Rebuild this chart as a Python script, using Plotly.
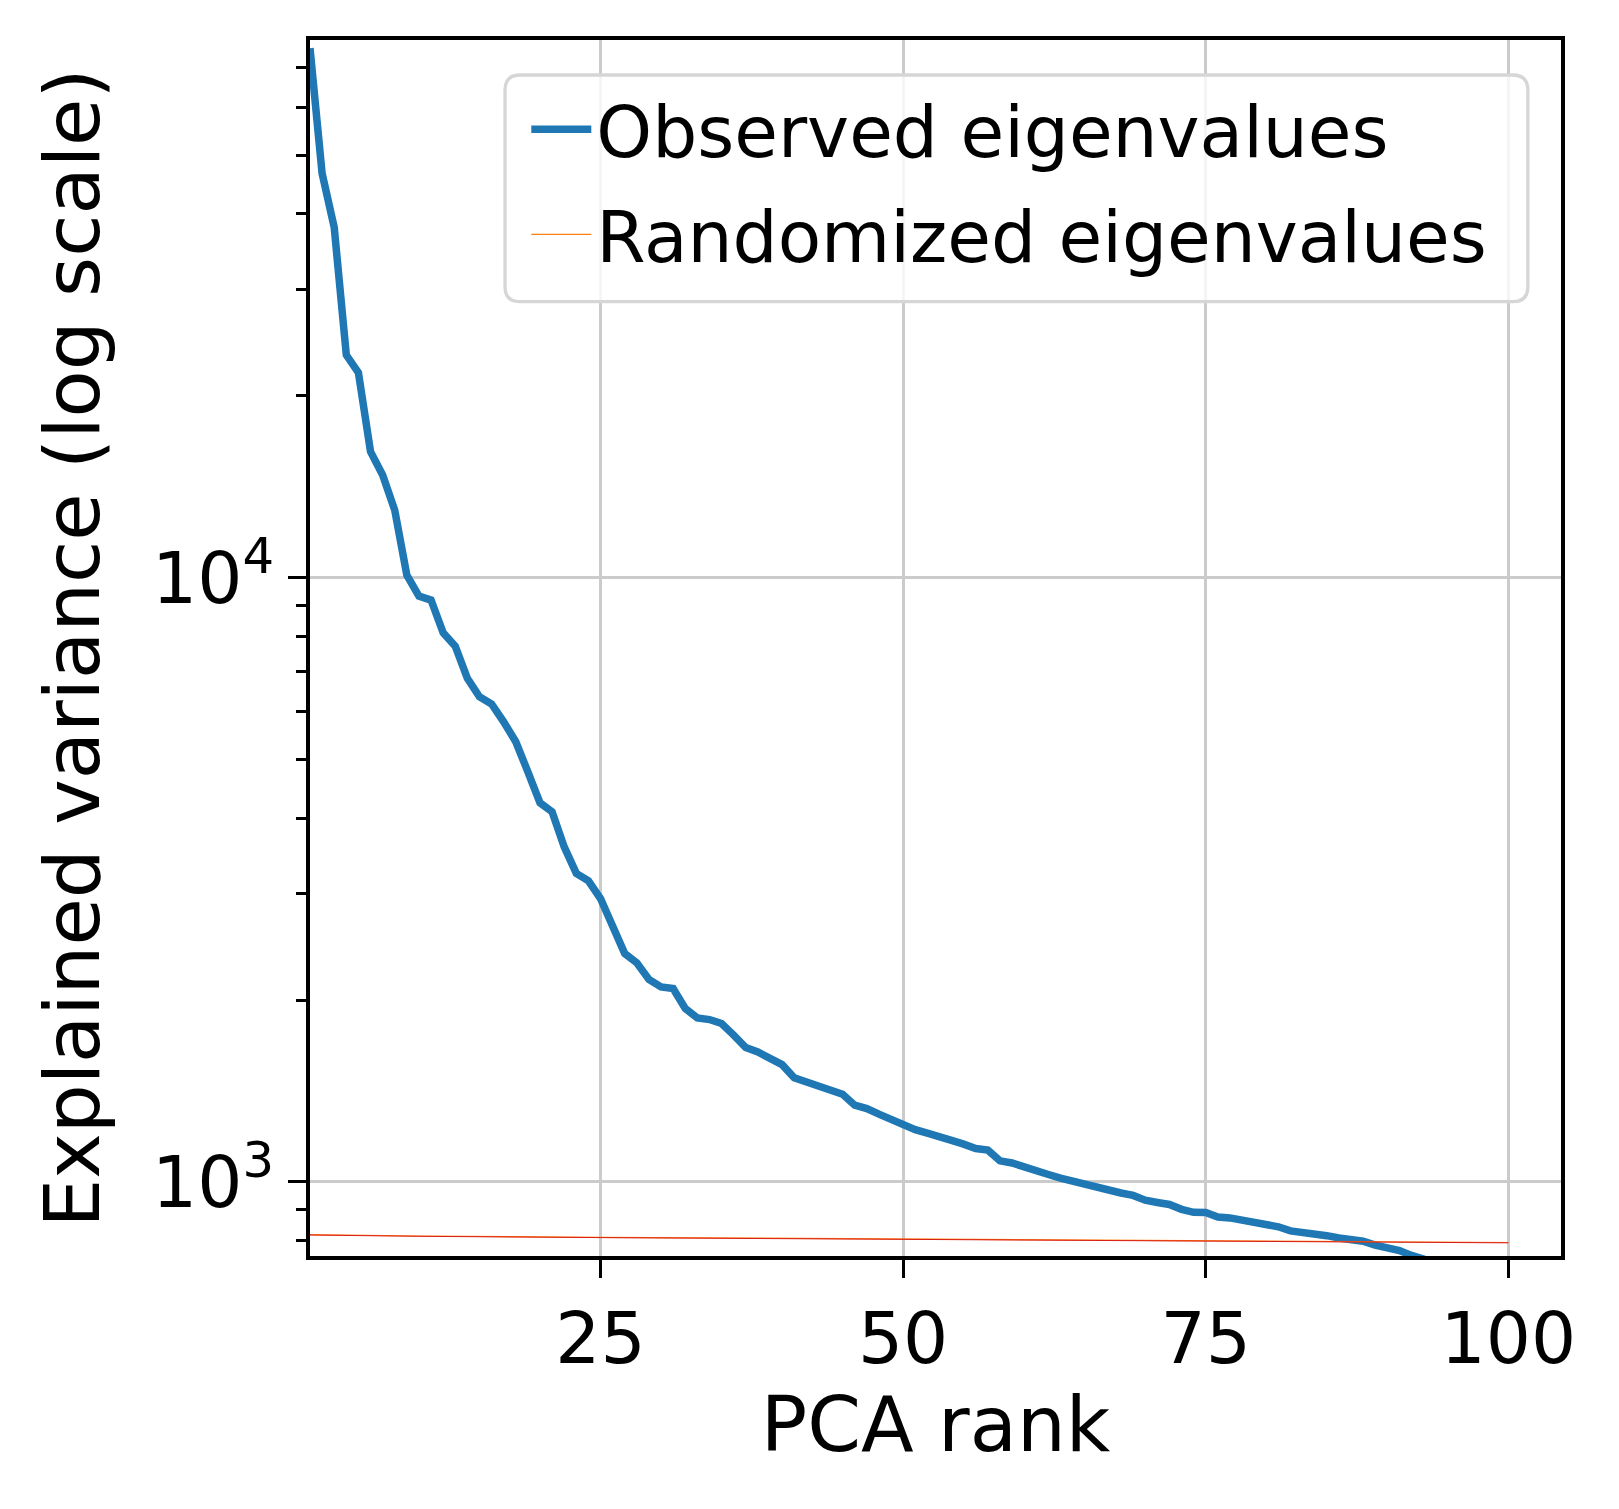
import plotly.graph_objects as go

# ---- data ----
rank_obs = list(range(1, 95))
observed = [
    75250, 46700, 38000, 23370, 21850, 16170, 14790, 12940, 10100, 9326,
    9185, 8110, 7705, 6815, 6354, 6181, 5776, 5353, 4773, 4241,
    4098, 3586, 3241, 3150, 2945, 2651, 2388, 2305, 2163, 2103,
    2090, 1937, 1868, 1857, 1829, 1750, 1669, 1641, 1601, 1564,
    1487, 1464, 1433, 1418, 1397, 1340, 1323, 1295, 1269, 1238,
    1221, 1205, 1192, 1172, 1155, 1136, 1129, 1084, 1075, 1062,
    1043, 1029, 1015, 1003, 987, 975, 965, 959, 950, 933,
    925, 918, 901, 891, 890, 875, 872, 866, 859, 848,
    843, 830, 826, 819, 815, 808, 804, 798, 786, 778,
    770, 756, 744, 735,
]
rank_rand = [1, 10, 25, 50, 75, 100]
randomized = [818, 814, 810, 805, 798, 794]
randomized_red = [817, 813, 809, 804, 798, 793]

x_tick_vals = [25, 50, 75, 100]
y_tick_vals = [1000, 10000]
y_tick_text = ["10<sup>3</sup>", "10<sup>4</sup>"]
y_minor_vals = [800, 900] + [k * 1000 for k in range(2, 10)] + [k * 10000 for k in range(2, 8)]

FONT = "DejaVu Sans"

fig = go.Figure()
fig.add_trace(go.Scatter(
    x=rank_obs, y=observed, mode="lines", name="Observed eigenvalues",
    line=dict(color="#1f77b4", width=7.5), legendgroup="a",
))
fig.add_trace(go.Scatter(
    x=rank_rand, y=randomized, mode="lines", name="Randomized eigenvalues",
    line=dict(color="#ff7f0e", width=1.2), legendgroup="b",
))
fig.add_trace(go.Scatter(
    x=rank_rand, y=randomized_red, mode="lines", showlegend=False,
    line=dict(color="#d81e1a", width=1.0), hoverinfo="skip",
))

axis_common = dict(
    showline=True, linecolor="black", linewidth=3.6, mirror=True,
    ticks="outside", ticklen=18, tickwidth=3.4, tickcolor="black",
    showgrid=True, gridcolor="#cbcbcb", gridwidth=3.4,
    zeroline=False,
    tickfont=dict(family=FONT, size=71, color="black"),
)

fig.update_xaxes(
    **axis_common,
    range=[1, 104.35],
    tickmode="array", tickvals=x_tick_vals,
    title=dict(text="PCA rank", font=dict(family=FONT, size=77, color="black"), standoff=18),
)
fig.update_yaxes(
    **axis_common,
    type="log",
    range=[2.8775, 4.890],
    tickmode="array", tickvals=y_tick_vals, ticktext=y_tick_text,
    minor=dict(tickmode="array", tickvals=y_minor_vals, ticks="outside", ticklen=10,
               tickwidth=2.8, tickcolor="black", showgrid=False),
    title=dict(text="Explained variance (log scale)", font=dict(family=FONT, size=77, color="black"), standoff=28),
)

# rounded legend frame (matplotlib style)
x0, x1, y0, y1, r = 0.1559, 0.9735, 0.7848, 0.9712, 0.012
ry = r * 1251 / 1215.7
path = (f"M {x0+r},{y1} L {x1-r},{y1} Q {x1},{y1} {x1},{y1-ry} "
        f"L {x1},{y0+ry} Q {x1},{y0} {x1-r},{y0} L {x0+r},{y0} "
        f"Q {x0},{y0} {x0},{y0+ry} L {x0},{y1-ry} Q {x0},{y1} {x0+r},{y1} Z")
fig.add_shape(type="path", path=path, xref="paper", yref="paper",
              line=dict(color="#d6d6d6", width=3.3), fillcolor="rgba(255,255,255,0.8)",
              layer="above")

fig.update_layout(
    width=1619, height=1509,
    margin=dict(l=310, r=58, t=40, b=253),
    paper_bgcolor="white", plot_bgcolor="white",
    font=dict(family=FONT, color="black"),
    showlegend=True,
    legend=dict(
        x=0.1729, y=0.970, xanchor="left", yanchor="top",
        bgcolor="rgba(0,0,0,0)", borderwidth=0,
        font=dict(family=FONT, size=71, color="black"),
        traceorder="grouped", tracegroupgap=10, itemwidth=60,
    ),
)

fig.write_html("out.html")
